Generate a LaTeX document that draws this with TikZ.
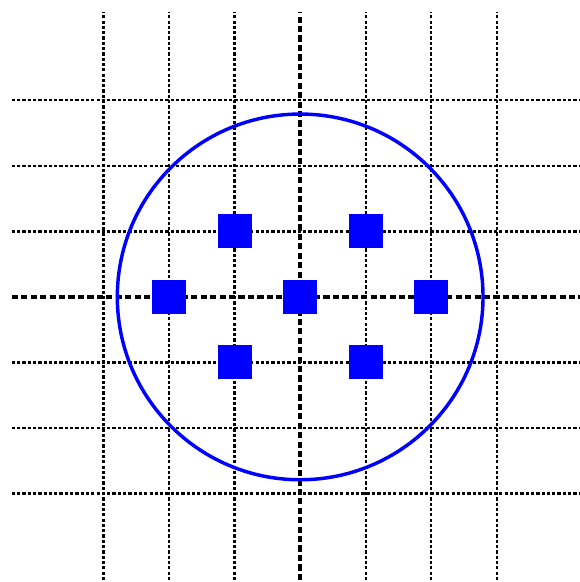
\documentclass[tikz,border=0pt]{standalone}
\usepackage{tikz}
\usetikzlibrary{positioning}
\definecolor{site}{HTML}{0000FF}

\begin{document}
\begin{tikzpicture}[x=1cm,y=1cm,
  gridline/.style={black,line width=1pt,dash pattern=on 1.4pt off 0.9pt},
  axisline/.style={black,line width=1.7pt,dash pattern=on 2.7pt off 1.4pt},
  atom/.style={fill=site,minimum size=0.52cm,inner sep=0pt},
]
  \useasboundingbox (-4.58,-4.35) rectangle (4.26,4.53);
  \foreach \k in {-3,-2,-1,1,2,3} {
    \draw[gridline] (\k,-4.32) -- (\k,4.34);
    \draw[gridline] (-4.4,\k) -- (4.27,\k);
  }
  \draw[axisline] (0,-4.32) -- (0,4.34);
  \draw[axisline] (-4.4,0) -- (4.27,0);

  \draw[site,line width=1.5pt] (0,0) circle (2.79);

  \node[atom] (c) at (0,0) {};
  \node[atom] (w) at (-2,0) {};
  \node[atom] (e) at (2,0) {};
  \node[atom] (nw) at (-1,1) {};
  \node[atom] (ne) at (1,1) {};
  \node[atom] (sw) at (-1,-1) {};
  \node[atom] (se) at (1,-1) {};
\end{tikzpicture}
\end{document}
